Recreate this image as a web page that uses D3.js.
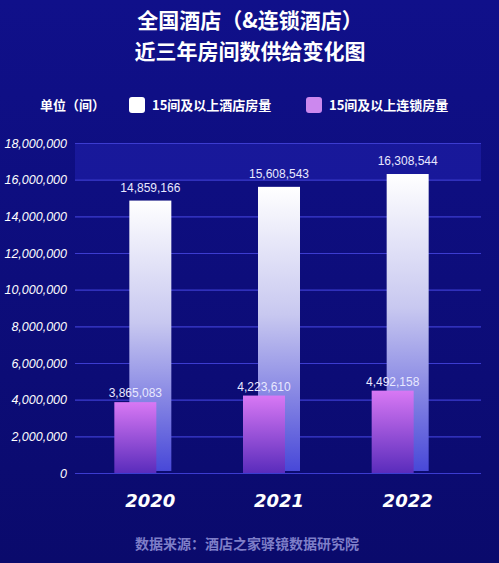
<!DOCTYPE html><html><head><meta charset="utf-8"><script src="https://cdn.jsdelivr.net/npm/d3@7"></script>
<style>body{margin:0;background:#0a0a78}svg{display:block}</style></head><body><svg id="c" width="499" height="563"></svg>
<script>
const years=["2020","2021","2022"];
const hotelRooms=[14859166,15608543,16308544];
const chainRooms=[3865083,4223610,4492158];
const yTicks=[0,2000000,4000000,6000000,8000000,10000000,12000000,14000000,16000000,18000000];
const svg=d3.select("#c");
const defs=svg.append("defs");
const bg=defs.append("linearGradient").attr("id","bg").attr("x1",0).attr("x2",0).attr("y1",0).attr("y2",1);
bg.append("stop").attr("offset",0).attr("stop-color","#10108a");bg.append("stop").attr("offset",1).attr("stop-color","#0a0a6c");
const gh=defs.append("linearGradient").attr("id","gh").attr("x1",0).attr("x2",0).attr("y1",0).attr("y2",1);
gh.append("stop").attr("offset",0).attr("stop-color","#ffffff");gh.append("stop").attr("offset",0.45).attr("stop-color","#c8c8f0");gh.append("stop").attr("offset",1).attr("stop-color","#4848d8");
const gc=defs.append("linearGradient").attr("id","gc").attr("x1",0).attr("x2",0).attr("y1",0).attr("y2",1);
gc.append("stop").attr("offset",0).attr("stop-color","#d878f4");gc.append("stop").attr("offset",1).attr("stop-color","#5a2cbc");
svg.append("rect").attr("width",499).attr("height",563).attr("fill","url(#bg)");
const t=svg.append("text").attr("x",250).attr("fill","#fff").attr("font-family","Noto Sans CJK SC").attr("font-weight","bold").attr("font-size",21).attr("text-anchor","middle");
t.append("tspan").attr("x",250).attr("y",28).text("全国酒店（&连锁酒店）");
t.append("tspan").attr("x",250).attr("y",59).text("近三年房间数供给变化图");
const lf={"font-family":"Noto Sans CJK SC","font-size":13,"font-weight":"bold"};
function txt(x,y,s,a){const e=svg.append("text").attr("x",x).attr("y",y).attr("fill","#fff").text(s);for(const k in lf)e.attr(k,lf[k]);if(a)e.attr("text-anchor",a);return e;}
txt(40,110,"单位（间）");
svg.append("rect").attr("x",129).attr("y",97).attr("width",16).attr("height",16).attr("rx",3).attr("fill","#fff");
txt(152,110,"15间及以上酒店房量");
svg.append("rect").attr("x",306).attr("y",97).attr("width",16).attr("height",16).attr("rx",3).attr("fill","#cc88ee");
txt(329,110,"15间及以上连锁房量");
const y=d3.scaleLinear().domain([0,18000000]).range([473,143]);
const x=d3.scaleBand().domain(years).range([85,471]).padding(0);
svg.append("rect").attr("x",75).attr("width",406).attr("y",y(18000000)).attr("height",y(16000000)-y(18000000)).attr("fill","#1c1ca0").attr("opacity",0.8);
const ax=svg.append("g").attr("transform","translate(75,0)").call(d3.axisLeft(y).tickValues(yTicks).tickFormat(d3.format(",")).tickSize(-406));
ax.select(".domain").remove();
ax.selectAll("line").attr("stroke","#3c3cd0").attr("stroke-width",1.2);
ax.selectAll("text").attr("fill","#fff").attr("font-family","Liberation Sans").attr("font-style","italic").attr("font-size",12.5).attr("x",-8);
const bw=42;
const cx=d=>x(d)+x.bandwidth()/2;
svg.selectAll(".h").data(years).join("rect").attr("x",d=>cx(d)+1-bw/2).attr("width",bw)
 .attr("y",(d,i)=>y(hotelRooms[i])).attr("height",(d,i)=>y(0)-y(hotelRooms[i])-2).attr("fill","url(#gh)");
svg.selectAll(".c").data(years).join("rect").attr("x",d=>cx(d)-14-bw/2).attr("width",bw)
 .attr("y",(d,i)=>y(chainRooms[i])).attr("height",(d,i)=>y(0)-y(chainRooms[i])).attr("fill","url(#gc)");
const vf=d3.format(",");
years.forEach((d,i)=>{
 svg.append("text").attr("x",cx(d)+1).attr("y",y(hotelRooms[i])-9).attr("text-anchor","middle").attr("fill","#e8e8ff").attr("font-family","Liberation Sans").attr("font-size",12).text(vf(hotelRooms[i]));
 svg.append("text").attr("x",cx(d)-14).attr("y",y(chainRooms[i])-5).attr("text-anchor","middle").attr("fill","#e8e8ff").attr("font-family","Liberation Sans").attr("font-size",12).text(vf(chainRooms[i]));
 svg.append("text").attr("x",cx(d)+1).attr("y",507).attr("text-anchor","middle").attr("fill","#fff").attr("font-family","DejaVu Sans").attr("font-style","italic").attr("font-weight","bold").attr("font-size",18).text(d);
});
svg.append("text").attr("x",247).attr("y",549).attr("text-anchor","middle").attr("fill","#7e7ec8").attr("font-family","Noto Sans CJK SC").attr("font-weight","bold").attr("font-size",14).text("数据来源：酒店之家驿镜数据研究院");
</script></body></html>
